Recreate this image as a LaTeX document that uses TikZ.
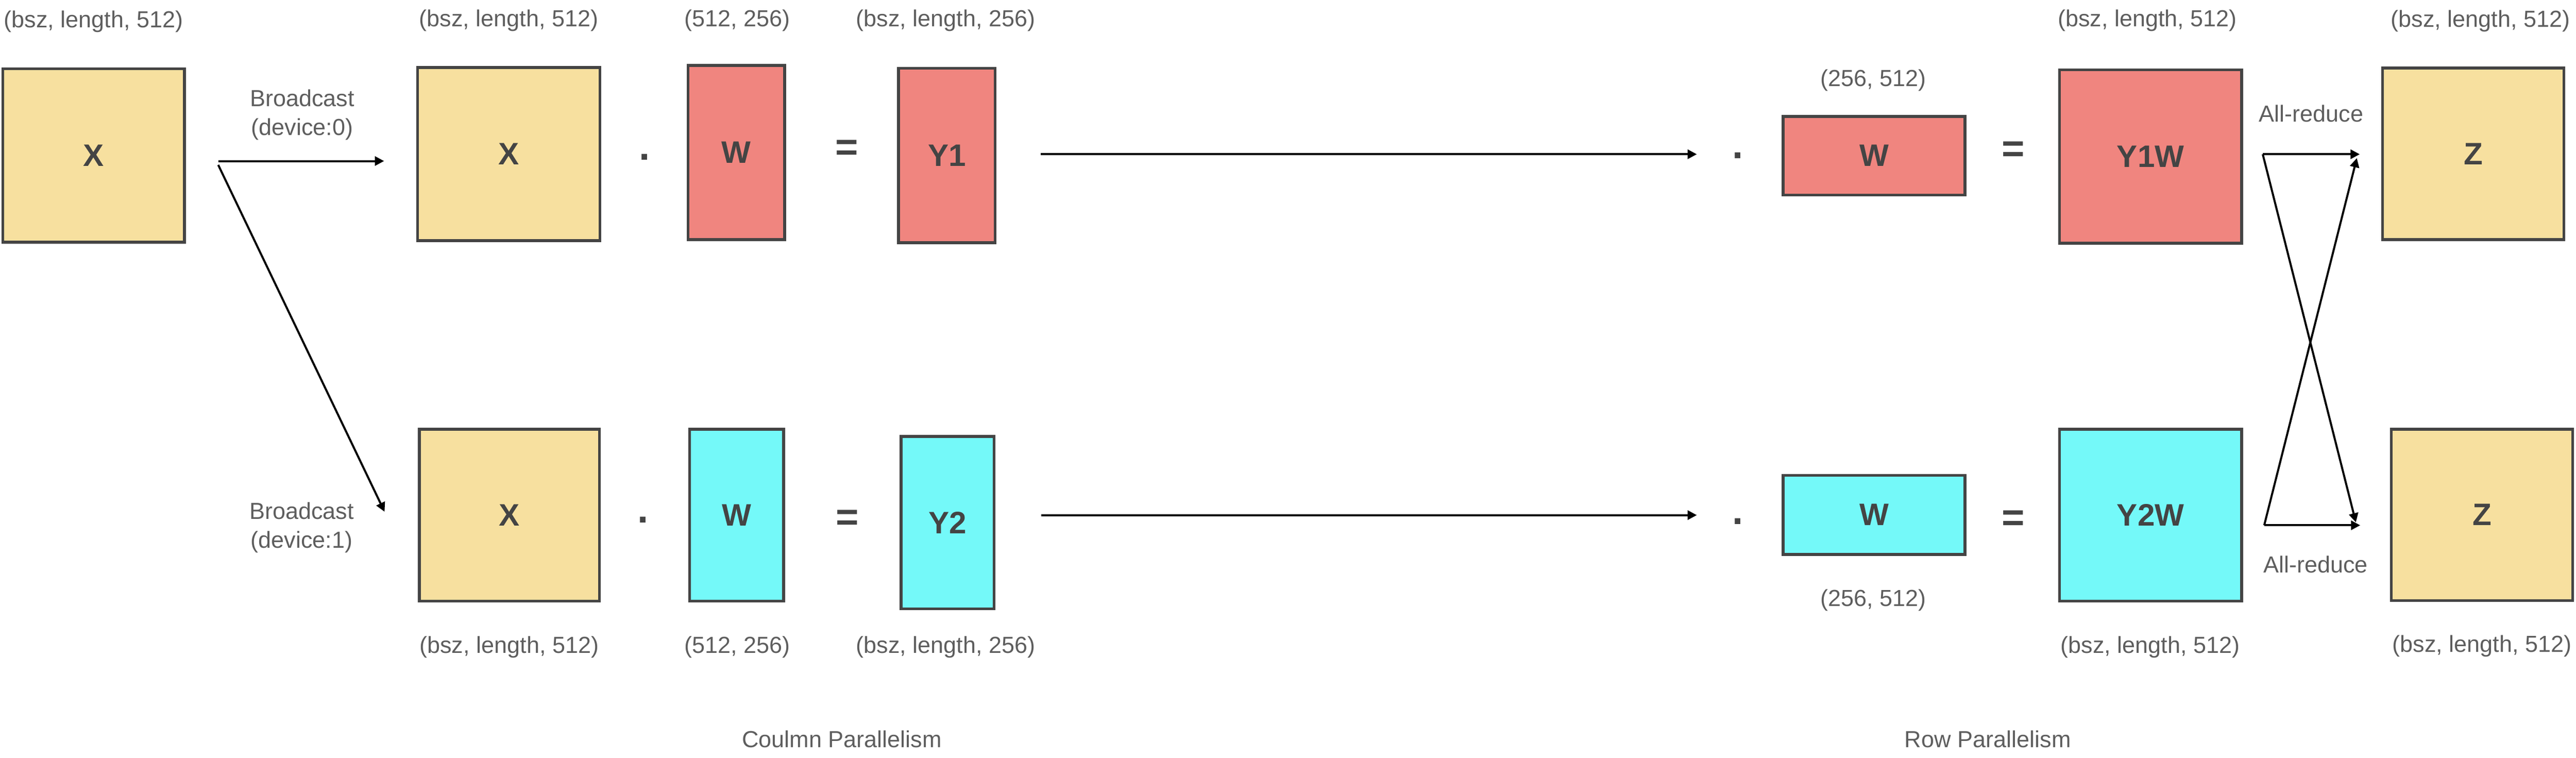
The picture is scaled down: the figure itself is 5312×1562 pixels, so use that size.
\documentclass[tikz,border=0pt]{standalone}
\usepackage{fontspec}
\setmainfont{Liberation Sans}
\usetikzlibrary{arrows.meta}
\definecolor{cyel}{HTML}{F7E09F}
\definecolor{cred}{HTML}{F0857F}
\definecolor{ccyan}{HTML}{74F9F9}
\definecolor{bord}{HTML}{444444}
\definecolor{labc}{HTML}{5E5E5E}
\begin{document}
\begin{tikzpicture}[x=0.01cm,y=-0.01cm,
  mbox/.style={draw=bord, line width=1.7pt, inner sep=0pt,
    font=\fontsize{18.2}{20}\selectfont\bfseries, text=bord},
  lbl/.style={font=\fontsize{13.6}{17}\selectfont, text=labc, inner sep=0pt, align=center},
  opsym/.style={font=\fontsize{23}{25}\selectfont\bfseries, text=bord, inner sep=0pt},
  arr/.style={-{Triangle[length=0.19cm,width=0.19cm]}, line width=1.2pt, black}]
\useasboundingbox (0,0) rectangle (5312,1562);

% boxes
\node[mbox, fill=cyel, minimum width=3.74cm, minimum height=3.57cm] (x0) at (193,320.5) {X};
\node[mbox, fill=cyel, minimum width=3.76cm, minimum height=3.57cm] (x1) at (1049,317.5) {X};
\node[mbox, fill=cred, minimum width=1.99cm, minimum height=3.59cm] (w1) at (1518.5,314.5) {W};
\node[mbox, fill=cred, minimum width=1.99cm, minimum height=3.59cm] (y1) at (1952.5,320.5) {Y1};
\node[mbox, fill=cyel, minimum width=3.71cm, minimum height=3.54cm] (x2) at (1050.5,1062) {X};
\node[mbox, fill=ccyan, minimum width=1.94cm, minimum height=3.54cm] (w2) at (1519,1062) {W};
\node[mbox, fill=ccyan, minimum width=1.92cm, minimum height=3.55cm] (y2) at (1954,1077.5) {Y2};
\node[mbox, fill=cred, minimum width=3.75cm, minimum height=1.62cm] (wr1) at (3864.5,321) {W};
\node[mbox, fill=cred, minimum width=3.75cm, minimum height=3.57cm] (y1w) at (4434.5,322.5) {Y1W};
\node[mbox, fill=ccyan, minimum width=3.75cm, minimum height=1.63cm] (wr2) at (3864.5,1061.5) {W};
\node[mbox, fill=ccyan, minimum width=3.75cm, minimum height=3.54cm] (y2w) at (4434.5,1062) {Y2W};
\node[mbox, fill=cyel, minimum width=3.74cm, minimum height=3.54cm] (z1) at (5100,317) {Z};
\node[mbox, fill=cyel, minimum width=3.74cm, minimum height=3.53cm] (z2) at (5118,1061.5) {Z};

% operators
\node[opsym] (d1) at (1329,324) {.};
\node[opsym] (e1) at (1746,310) {=};
\node[opsym] (d2) at (1326,1072) {.};
\node[opsym] (e2) at (1747,1073) {=};
\node[opsym] (d3) at (3584,321) {.};
\node[opsym] (e3) at (4152,313) {=};
\node[opsym] (d4) at (3584,1075) {.};
\node[opsym] (e4) at (4152,1074) {=};

% shape labels
\node[lbl] (t0) at (193,44) {(bsz, length, 512)};
\node[lbl] (t1) at (1049,42) {(bsz, length, 512)};
\node[lbl] (t2) at (1520,42) {(512, 256)};
\node[lbl] (t3) at (1950,42) {(bsz, length, 256)};
\node[lbl] (t4) at (3863,166) {(256, 512)};
\node[lbl] (t5) at (4428,42) {(bsz, length, 512)};
\node[lbl] (t6) at (5115,43) {(bsz, length, 512)};
\node[lbl] (b1) at (1050,1334) {(bsz, length, 512)};
\node[lbl] (b2) at (1520,1334) {(512, 256)};
\node[lbl] (b3) at (1950,1334) {(bsz, length, 256)};
\node[lbl] (b4) at (3863,1237) {(256, 512)};
\node[lbl] (b5) at (4434,1334) {(bsz, length, 512)};
\node[lbl] (b6) at (5118,1332) {(bsz, length, 512)};

% operation labels
\node[lbl] (bc0) at (623,237) {Broadcast\\(device:0)};
\node[lbl] (bc1) at (622,1088) {Broadcast\\(device:1)};
\node[lbl] (ar1) at (4766,234) {All-reduce};
\node[lbl] (ar2) at (4775,1164) {All-reduce};
\node[lbl] (cp) at (1736,1524) {Coulmn Parallelism};
\node[lbl] (rp) at (4099,1524) {Row Parallelism};

% connector end points
\coordinate (s0) at (450,332);
\coordinate (e0) at (792,332);
\coordinate (s1) at (450,340);
\coordinate (e1c) at (793,1055);
\coordinate (l1s) at (2146,318);
\coordinate (l1e) at (3499,318);
\coordinate (l2s) at (2147,1062);
\coordinate (l2e) at (3499,1062);
\coordinate (r1s) at (4666,318);
\coordinate (r1e) at (4866,318);
\coordinate (r1d) at (4858,1077);
\coordinate (r2s) at (4669,1083);
\coordinate (r2e) at (4867,1083);
\coordinate (r2u) at (4860,326);

\draw[arr] (s0) -- (e0);
\draw[arr] (s1) -- (e1c);
\draw[arr] (l1s) -- (l1e);
\draw[arr] (l2s) -- (l2e);
\draw[arr] (r1s) -- (r1e);
\draw[arr] (r1s) -- (r1d);
\draw[arr] (r2s) -- (r2e);
\draw[arr] (r2s) -- (r2u);
\end{tikzpicture}
\end{document}
